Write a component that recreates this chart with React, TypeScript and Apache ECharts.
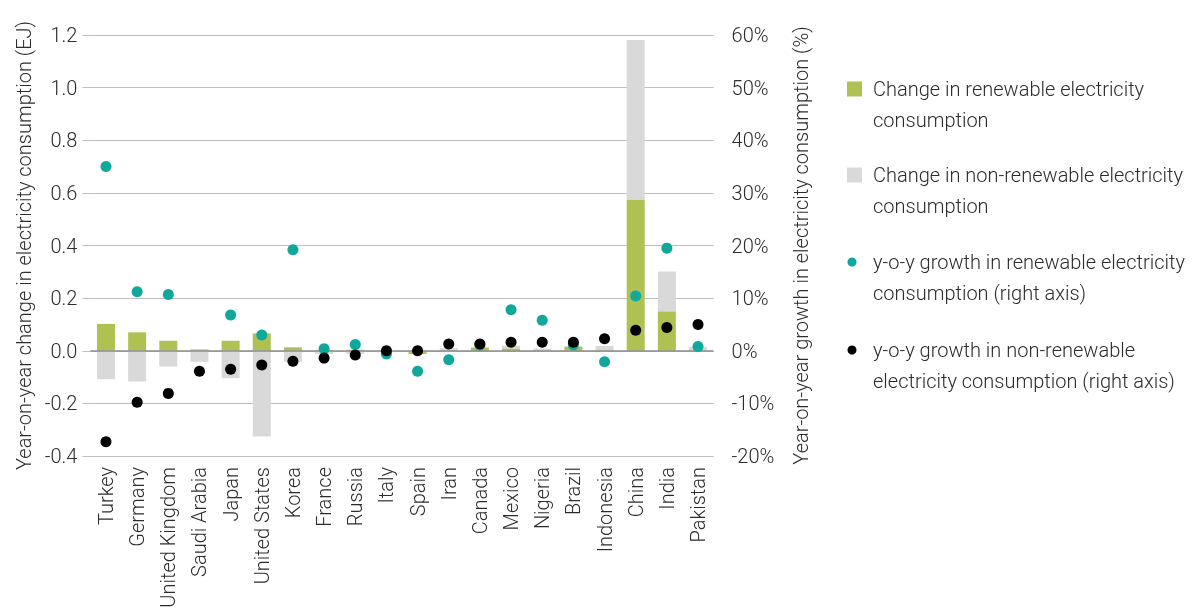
import React, { useEffect, useRef } from "react";
import * as echarts from "echarts";

const categories = [
  "Turkey", "Germany", "United Kingdom", "Saudi Arabia", "Japan", "United States", "Korea",
  "France", "Russia", "Italy", "Spain", "Iran", "Canada", "Mexico", "Nigeria", "Brazil",
  "Indonesia", "China", "India", "Pakistan",
];
const renewableChange = [
  0.102, 0.07, 0.038, 0.005, 0.038, 0.066, 0.013, 0.003, 0.004, 0.0, -0.012, 0.002, 0.012,
  0.009, 0.001, 0.015, 0.002, 0.575, 0.15, 0.002,
];
const nonRenewableChange = [
  -0.108, -0.117, -0.06, -0.042, -0.104, -0.326, -0.042, -0.012, -0.012, -0.006, 0.003, 0.008,
  0.003, 0.01, 0.007, 0.003, 0.016, 0.606, 0.151, 0.012,
];
const renewableGrowth = [
  35.0, 11.2, 10.7, null, 6.8, 3.0, 19.2, 0.4, 1.2, -0.6, -3.9, -1.7, 1.1, 7.8, 5.8, 1.1, -2.1,
  10.4, 19.5, 0.8,
];
const nonRenewableGrowth = [
  -17.3, -9.8, -8.1, -3.9, -3.5, -2.7, -2.0, -1.4, -0.8, 0.0, 0.0, 1.3, 1.3, 1.6, 1.6, 1.6, 2.3,
  3.9, 4.4, 5.0,
];
const legendLabels = [
  "Change in renewable electricity\nconsumption",
  "Change in non-renewable electricity\nconsumption",
  "y-o-y growth in renewable electricity\nconsumption (right axis)",
  "y-o-y growth in non-renewable\nelectricity consumption (right axis)",
];

const GREEN = "#AFC153";
const GREY = "#D9D9D9";
const TEAL = "#0FA89A";
const BLACK = "#000000";
const TEXT = "#2b2b2b";
const FONT = "Roboto";

export default function App() {
  const ref = useRef<HTMLDivElement>(null);
  useEffect(() => {
    if (!ref.current) return;
    const chart = echarts.init(ref.current, null, { renderer: "svg" });
    const textBase = { fontFamily: FONT, fontWeight: 300, fontSize: 20, color: TEXT };
    const legendY = [89, 175, 262, 350];
    chart.setOption({
      animation: false,
      textStyle: { fontFamily: FONT },
      grid: { left: 90.4, right: 489.4, top: 35, bottom: 156, containLabel: false },
      xAxis: {
        type: "category",
        data: categories,
        axisLine: { show: false, onZero: false },
        axisTick: { show: false },
        axisLabel: { ...textBase, rotate: 90, margin: 11, interval: 0 },
      },
      yAxis: [
        {
          type: "value",
          min: -0.4,
          max: 1.2,
          interval: 0.2,
          name: "Year-on-year change in electricity consumption (EJ)",
          nameLocation: "middle",
          nameRotate: 90,
          nameGap: 56,
          nameTextStyle: { ...textBase },
          axisLine: { show: false },
          axisTick: { show: true, length: 8, lineStyle: { color: "#BFBFBF" } },
          axisLabel: { ...textBase, margin: 13, formatter: (v: number) => v.toFixed(1) },
          splitLine: { lineStyle: { color: "#BFBFBF", width: 1 } },
        },
        {
          type: "value",
          min: -20,
          max: 60,
          interval: 10,
          position: "right",
          name: "Year-on-year growth in electricity consumption (%)",
          nameLocation: "middle",
          nameRotate: 90,
          nameGap: 77,
          nameTextStyle: { ...textBase },
          axisLine: { show: false },
          axisTick: { show: false },
          axisLabel: { ...textBase, margin: 18, formatter: "{value}%" },
          splitLine: { show: false },
        },
      ],
      series: [
        {
          name: "Change in renewable electricity consumption",
          type: "bar",
          stack: "change",
          barWidth: 18,
          yAxisIndex: 0,
          itemStyle: { color: GREEN },
          data: renewableChange,
          markLine: {
            silent: true,
            symbol: "none",
            label: { show: false },
            lineStyle: { color: "#8C8C8C", width: 1.5, type: "solid" },
            data: [{ yAxis: 0 }],
          },
        },
        {
          name: "Change in non-renewable electricity consumption",
          type: "bar",
          stack: "change",
          barWidth: 18,
          yAxisIndex: 0,
          itemStyle: { color: GREY },
          data: nonRenewableChange,
        },
        {
          name: "y-o-y growth in renewable electricity consumption (right axis)",
          type: "scatter",
          yAxisIndex: 1,
          symbolSize: 11,
          itemStyle: { color: TEAL, opacity: 1 },
          data: renewableGrowth,
          z: 5,
        },
        {
          name: "y-o-y growth in non-renewable electricity consumption (right axis)",
          type: "scatter",
          yAxisIndex: 1,
          symbolSize: 11,
          itemStyle: { color: BLACK, opacity: 1 },
          data: nonRenewableGrowth,
          z: 6,
        },
      ],
      graphic: [
        { type: "rect", shape: { x: 847, y: legendY[0] - 7.5, width: 15, height: 15 }, style: { fill: GREEN } },
        { type: "rect", shape: { x: 847, y: legendY[1] - 7.5, width: 15, height: 15 }, style: { fill: GREY } },
        { type: "circle", shape: { cx: 852, cy: legendY[2], r: 4.5 }, style: { fill: TEAL } },
        { type: "circle", shape: { cx: 852, cy: legendY[3], r: 4.5 }, style: { fill: BLACK } },
        ...legendLabels.map((t, i) => ({
          type: "text",
          x: 873,
          y: legendY[i] - 15.5,
          style: {
            text: t,
            fontFamily: FONT,
            fontWeight: 300,
            fontSize: 20,
            lineHeight: 31,
            fill: TEXT,
            verticalAlign: "top",
            align: "left",
          },
        })),
      ],
    });
    return () => chart.dispose();
  }, []);
  return (
    <div
      ref={ref}
      style={{ position: "fixed", left: 0, top: 0, width: 1203, height: 612 }}
    />
  );
}
